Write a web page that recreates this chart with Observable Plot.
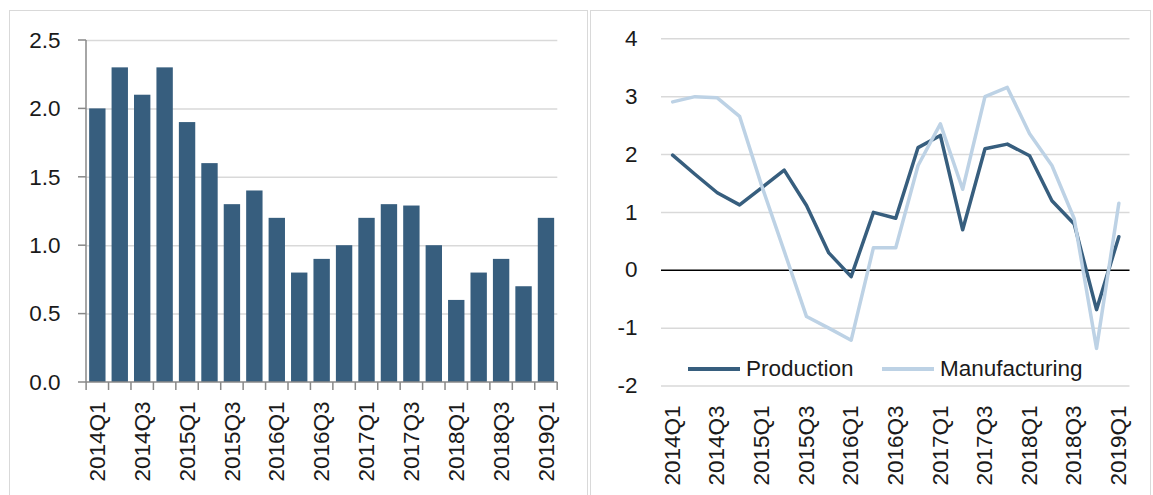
<!DOCTYPE html>
<html>
<head>
<meta charset="utf-8">
<script src="https://cdn.jsdelivr.net/npm/d3@7"></script>
<script src="https://cdn.jsdelivr.net/npm/@observablehq/plot@0.6"></script>
<style>
  html, body { margin: 0; padding: 0; background: #fff; }
  #page { position: relative; width: 1153px; height: 495px; overflow: hidden;
          font-family: "Liberation Sans", Arial, sans-serif; color: #1a1a1a; }
  .panel { position: absolute; border: 1.5px solid #d9d9d9; box-sizing: border-box; }
  #p1 { left: 9px; top: 10px; width: 579px; height: 530px; }
  #p2 { left: 590px; top: 10px; width: 561px; height: 530px; }
  .chart { position: absolute; top: 0; }
  #c1 { left: 0; }
  #c2 { left: 587px; }
  .leg { position: absolute; top: 355px; height: 28px; display: flex; align-items: center;
         font-size: 22.5px; white-space: nowrap; }
  .sw { display: inline-block; width: 52px; height: 3.5px; margin-right: 6px; }
</style>
</head>
<body>
<div id="page">
  <div class="panel" id="p1"></div>
  <div class="panel" id="p2"></div>
  <div class="chart" id="c1"></div>
  <div class="chart" id="c2"></div>
  <div class="leg" id="leg1" style="left:688px"></div>
  <div class="leg" id="leg2" style="left:882px"></div>
</div>
<script>
// ---------- data ----------
const quarters = ["2014Q1","2014Q2","2014Q3","2014Q4","2015Q1","2015Q2","2015Q3","2015Q4",
  "2016Q1","2016Q2","2016Q3","2016Q4","2017Q1","2017Q2","2017Q3","2017Q4",
  "2018Q1","2018Q2","2018Q3","2018Q4","2019Q1"];
const growth = [2.0, 2.3, 2.1, 2.3, 1.9, 1.6, 1.3, 1.4, 1.2, 0.8, 0.9, 1.0, 1.2, 1.3, 1.29, 1.0, 0.6, 0.8, 0.9, 0.7, 1.2];
const production = [1.99, 1.66, 1.34, 1.13, 1.43, 1.73, 1.12, 0.30, -0.11, 1.00, 0.90, 2.12, 2.33, 0.70, 2.10, 2.18, 1.98, 1.20, 0.80, -0.68, 0.58];
const manufacturing = [2.91, 3.00, 2.98, 2.66, 1.45, 0.33, -0.80, -1.00, -1.21, 0.39, 0.39, 1.81, 2.53, 1.40, 3.00, 3.16, 2.36, 1.81, 0.89, -1.35, 1.16];
const seriesNames = ["Production", "Manufacturing"];
const xTickLabels = quarters.filter((d, i) => i % 2 === 0);
const yTicksLeft = [0, 0.5, 1.0, 1.5, 2.0, 2.5];
const yTicksRight = [-2, -1, 0, 1, 2, 3, 4];

// ---------- style ----------
const darkBlue = "#375e7e";
const lightBlue = "#bdd2e5";
const gridGray = "#d9d9d9";
const axisGray = "#888888";
const fontFamily = '"Liberation Sans", Arial, sans-serif';
const fontSize = "22.5px";
const H = 495;

const barData = quarters.map((q, i) => ({q, v: growth[i]}));
const prodData = quarters.map((q, i) => ({q, v: production[i]}));
const manuData = quarters.map((q, i) => ({q, v: manufacturing[i]}));

// axis lines & Excel-style boundary ticks for the bar chart
function leftAxisFrame(index, scales, values, dimensions) {
  const {width, marginLeft, marginRight, marginTop} = dimensions;
  const x = scales.x, y = scales.y;
  const bw = x.bandwidth(), st = x.step();
  const y0 = y(0);
  const g = d3.create("svg:g").attr("stroke", axisGray).attr("stroke-width", 1.5).attr("fill", "none");
  g.append("line").attr("x1", marginLeft).attr("x2", marginLeft).attr("y1", y0).attr("y2", marginTop);
  g.append("line").attr("x1", marginLeft).attr("x2", width - marginRight).attr("y1", y0).attr("y2", y0);
  const bounds = quarters.map(q => x(q) - (st - bw) / 2);
  bounds.push(x(quarters[quarters.length - 1]) + bw + (st - bw) / 2);
  for (const b of bounds) g.append("line").attr("x1", b).attr("x2", b).attr("y1", y0).attr("y2", y0 + 8);
  for (const t of yTicksLeft) g.append("line").attr("x1", marginLeft - 8).attr("x2", marginLeft).attr("y1", y(t)).attr("y2", y(t));
  return g.node();
}

const W1 = 587;
const left = Plot.plot({
  width: W1, height: H,
  marginTop: 40, marginBottom: 113, marginLeft: 86, marginRight: 29.7,
  style: {fontFamily, fontSize, color: "#1a1a1a", background: "transparent", overflow: "visible"},
  x: {type: "band", domain: quarters, paddingInner: 0.27, paddingOuter: 0.14, align: 0.5, round: false},
  y: {domain: [0, 2.5]},
  marks: [
    Plot.ruleY(yTicksLeft.filter(d => d > 0), {stroke: gridGray, strokeWidth: 1.5}),
    Plot.barY(barData, {x: "q", y: "v", fill: darkBlue}),
    leftAxisFrame,
    Plot.axisY({ticks: yTicksLeft, tickSize: 0, tickPadding: 26, tickFormat: d3.format(".1f"), label: null, fontSize: 22.5}),
    Plot.axisX({ticks: xTickLabels, tickSize: 0, tickPadding: 19, tickRotate: -90, label: null, fontSize: 22.5})
  ]
});
document.getElementById("c1").appendChild(left);

const W2 = 566;
const right = Plot.plot({
  width: W2, height: H,
  marginTop: 38.3, marginBottom: 109.5, marginLeft: 74, marginRight: 23.5,
  style: {fontFamily, fontSize, color: "#1a1a1a", background: "transparent", overflow: "visible"},
  x: {type: "point", domain: quarters, padding: 0.5, round: false},
  y: {domain: [-2, 4]},
  marks: [
    Plot.ruleY(yTicksRight.filter(d => d !== 0), {stroke: gridGray, strokeWidth: 1.5}),
    Plot.ruleY([0], {stroke: "#000", strokeWidth: 1.5}),
    Plot.line(prodData, {x: "q", y: "v", stroke: darkBlue, strokeWidth: 3.5, strokeLinejoin: "round", strokeLinecap: "round"}),
    Plot.line(manuData, {x: "q", y: "v", stroke: lightBlue, strokeWidth: 3.5, strokeLinejoin: "round", strokeLinecap: "round"}),
    Plot.axisY({ticks: yTicksRight, tickSize: 0, tickPadding: 24, tickFormat: d => String(d), label: null, fontSize: 22.5}),
    Plot.axisX({ticks: xTickLabels, tickSize: 0, tickPadding: 19.5, tickRotate: -90, label: null, fontSize: 22.5})
  ]
});
document.getElementById("c2").appendChild(right);

// legend
[[seriesNames[0], darkBlue, "leg1"], [seriesNames[1], lightBlue, "leg2"]].forEach(([name, col, id]) => {
  const el = document.getElementById(id);
  const sw = document.createElement("span");
  sw.className = "sw"; sw.style.background = col;
  el.appendChild(sw);
  el.appendChild(document.createTextNode(name));
});
</script>
</body>
</html>
